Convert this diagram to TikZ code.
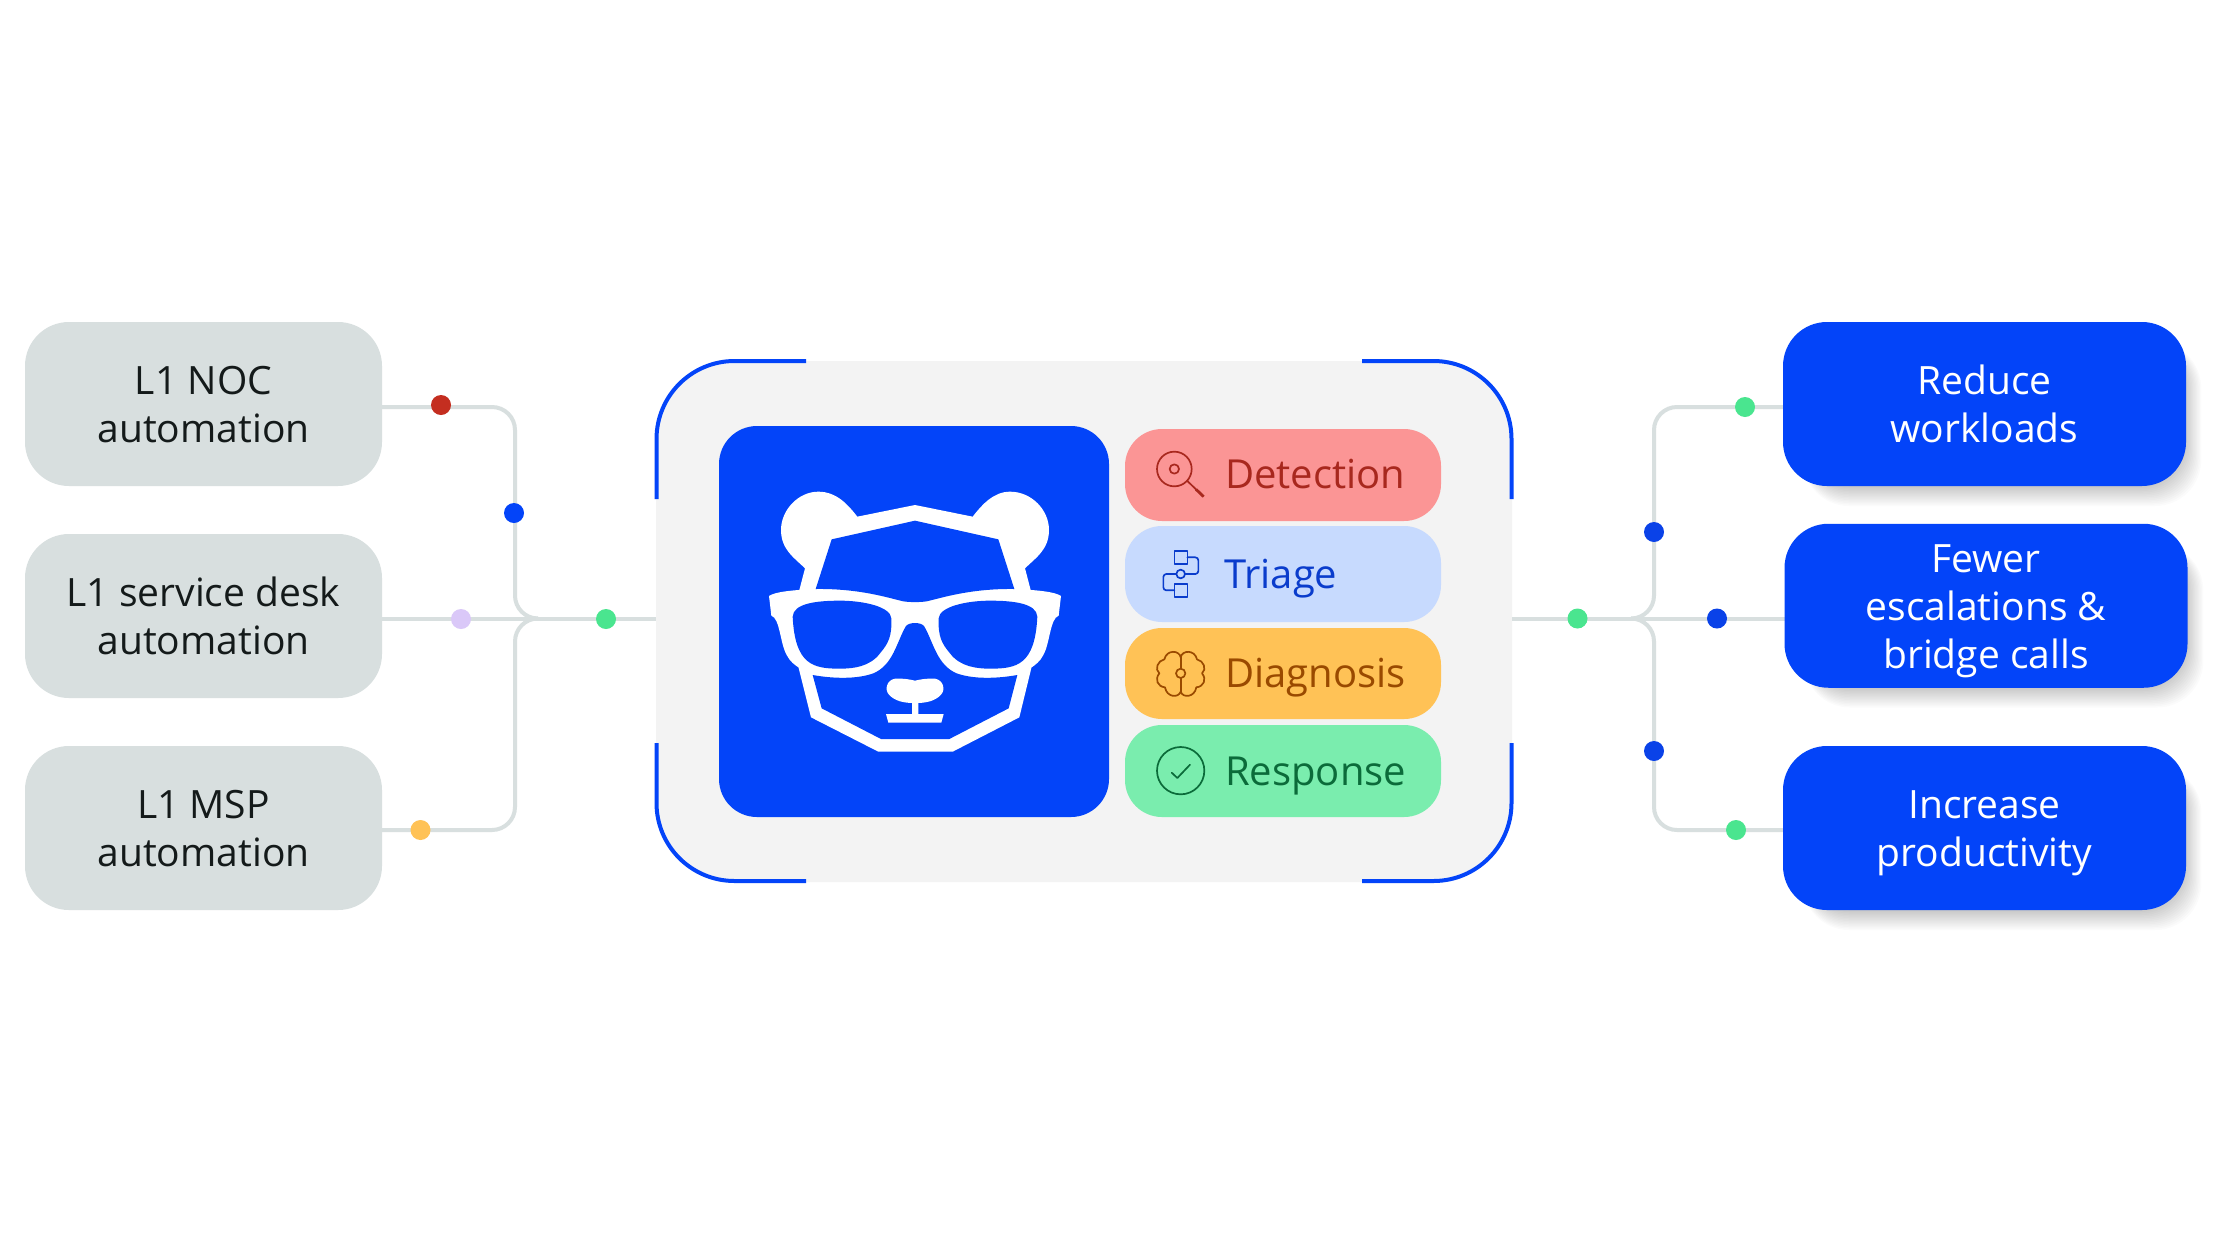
\documentclass[tikz,border=0pt]{standalone}
\usepackage{fontspec}
\setmainfont{Open Sans}
\definecolor{linegray}{HTML}{D8DFDF}
\definecolor{boxgray}{HTML}{D8DFDF}
\definecolor{brand}{HTML}{0344F9}
\definecolor{panelgray}{HTML}{F3F3F3}
\definecolor{dotred}{HTML}{C42E20}
\definecolor{dotlilac}{HTML}{DAC8F8}
\definecolor{dotgreen}{HTML}{4AE58F}
\definecolor{dotorange}{HTML}{FFC256}
\definecolor{dotblue}{HTML}{0A42E8}
\definecolor{pillred}{HTML}{FB9595}
\definecolor{pillblue}{HTML}{C7DAFE}
\definecolor{pillorange}{HTML}{FFC256}
\definecolor{pillgreen}{HTML}{7AEDAE}
\definecolor{inkred}{HTML}{A8281E}
\definecolor{inkblue}{HTML}{0A3CCC}
\definecolor{inkorange}{HTML}{9A4A00}
\definecolor{inkgreen}{HTML}{0B6B3A}
\definecolor{inkdark}{HTML}{141A1A}
\newcommand{\softshadow}[4]{%
  \foreach \k in {0,1,...,14}{%
    \fill[black,opacity=0.016,rounded corners=46pt]
      ({#1+20},{#2+20}) rectangle ({#3-3+\k*1.3},{#4-1+\k*1.5});
  }}
\newcommand{\topstrut}{\rule{0pt}{41pt}}
\newcommand{\botstrut}{\rule[-12pt]{0pt}{12pt}}
\tikzset{
  x=1pt,y=-1pt,
  conn/.style={draw=linegray,line width=4pt},
  boxtext/.style={inner sep=0pt,align=center,minimum height=164pt,font=\fontsize{39}{48}\selectfont},
  graybox/.style={rectangle,rounded corners=44pt,fill=boxgray,text=inkdark,minimum width=357pt,boxtext},
  bluebox/.style={rectangle,rounded corners=44pt,fill=brand,text=white,minimum width=403pt,boxtext},
  pill/.style={rectangle,rounded corners=37pt,inner sep=0pt,minimum width=316pt},
  pilltext/.style={anchor=base west,inner sep=0pt,font=\fontsize{40}{48}\selectfont},
  dot/.style={circle,inner sep=0pt,minimum size=20pt},
  bracket/.style={draw=brand,line width=4pt},
  icon/.style={line width=1.7pt,line join=round,line cap=round},
}
\begin{document}
\begin{tikzpicture}
\useasboundingbox (0,0) rectangle (2215,1232);
\fill[white] (0,0) rectangle (2215,1232);
% anchors of the connector trees
\coordinate (jl) at (537,618.5);
\coordinate (cl1) at (515,407);
\coordinate (cl3) at (515,830);
\coordinate (jr) at (1632,618.5);
\coordinate (cr1) at (1654,407);
\coordinate (cr3) at (1654,830);
% panel
\fill[panelgray,rounded corners=78pt] (656,361) rectangle (1512,882);
\node[inner sep=0pt,minimum width=856pt,minimum height=521pt] (panel) at (1084,621.5) {};
% connectors
\draw[conn] (panel.west |- jl) -- (300,618.5);
\draw[conn,rounded corners=23pt] (300,407) -- (cl1) -- (cl1 |- jl) -- (jl);
\draw[conn,rounded corners=23pt] (300,830) -- (cl3) -- (cl3 |- jl) -- (jl);
\draw[conn] (panel.east |- jr) -- (1850,618.5);
\draw[conn,rounded corners=23pt] (1850,407) -- (cr1) -- (cr1 |- jr) -- (jr);
\draw[conn,rounded corners=23pt] (1850,830) -- (cr3) -- (cr3 |- jr) -- (jr);
% panel corner brackets
\draw[bracket,rounded corners=78pt] (656.5,499) -- (656.5,361) -- (806,361);
\draw[bracket,rounded corners=78pt] (1362,361) -- (1511.5,361) -- (1511.5,499);
\draw[bracket,rounded corners=78pt] (656.5,743) -- (656.5,881) -- (806,881);
\draw[bracket,rounded corners=78pt] (1362,881) -- (1511.5,881) -- (1511.5,743);
% dots
\node[dot,fill=dotred] (d1) at (441,405) {};
\node[dot,fill=brand] (d2) at (514,513) {};
\node[dot,fill=dotlilac] (d3) at (461,619) {};
\node[dot,fill=dotgreen] (d4) at (606,619) {};
\node[dot,fill=dotorange] (d5) at (420.5,830) {};
\node[dot,fill=dotgreen] (d6) at (1577.5,618.5) {};
\node[dot,fill=dotgreen] (d7) at (1745,407) {};
\node[dot,fill=dotblue] (d8) at (1654,532) {};
\node[dot,fill=dotblue] (d9) at (1717,618.5) {};
\node[dot,fill=dotblue] (d10) at (1654,751) {};
\node[dot,fill=dotgreen] (d11) at (1736,830) {};
% left boxes
\node[graybox] (l1) at (203.5,404) {\topstrut L1 NOC\\automation\botstrut};
\node[graybox] (l2) at (203.5,616) {\topstrut L1 service desk\\automation\botstrut};
\node[graybox] (l3) at (203.5,828) {\topstrut L1 MSP\\automation\botstrut};
% right boxes
\softshadow{1783}{322}{2186}{486}
\softshadow{1784}{524}{2188}{687.5}
\softshadow{1783}{746}{2186}{910}
\node[bluebox] (r1) at (1984.5,404) {\topstrut Reduce\\workloads\botstrut};
\node[bluebox] (r2) at (1986,605.75) {\topstrut Fewer\\escalations \&\\bridge calls\botstrut};
\node[bluebox] (r3) at (1984.5,828) {\topstrut Increase\\productivity\botstrut};
% logo tile
\node[rectangle,rounded corners=38pt,fill=brand,inner sep=0pt,minimum width=390pt,minimum height=391pt] (tile) at (914,621.5) {};
\begin{scope}[shift={(700,410)},x=0.33333pt,y=-0.33333pt]
  % head with ears
  \fill[white] (472,320) -- (645,285) -- (818,320)
    .. controls (845,285) and (880,245) .. (930,245)
    .. controls (995,245) and (1047,300) .. (1047,360)
    .. controls (1047,420) and (1005,445) .. (975,475)
    -- (992,540) -- (995,770) -- (958,922) -- (758,1025) -- (535,1025) -- (333,922) -- (295,770) -- (298,540) -- (315,475)
    .. controls (285,445) and (243,420) .. (243,360)
    .. controls (243,300) and (295,245) .. (355,245)
    .. controls (410,245) and (445,285) .. (472,320) -- cycle;
  % glasses
  \fill[white] (207,558) .. controls (225,545) and (280,540) .. (347,537)
    .. controls (480,535) and (570,565) .. (610,574)
    .. controls (630,577) and (660,577) .. (680,574)
    .. controls (720,565) and (810,535) .. (943,537)
    .. controls (1010,540) and (1065,545) .. (1083,558)
    -- (1076,617) .. controls (1050,625) and (1050,700) .. (1030,735)
    .. controls (1020,755) and (1005,765) .. (995,772)
    -- (295,772) .. controls (285,765) and (270,755) .. (260,735)
    .. controls (240,700) and (240,625) .. (214,617) -- cycle;
  % forehead
  \fill[brand] (395,388) -- (645,332) -- (895,388) -- (943,537)
    .. controls (810,535) and (720,565) .. (680,574)
    .. controls (660,577) and (630,577) .. (610,574)
    .. controls (570,565) and (480,535) .. (347,537) -- cycle;
  % lower face
  \fill[brand] (338,795) .. controls (400,806) and (470,808) .. (520,790)
    .. controls (580,765) and (590,695) .. (618,648)
    .. controls (628,636) and (662,636) .. (672,648)
    .. controls (700,695) and (710,765) .. (770,790)
    .. controls (820,808) and (890,806) .. (952,795)
    -- (926,895) -- (748,987) -- (543,987) -- (365,895) -- cycle;
  % lenses
  \fill[brand] (278,620) .. controls (280,580) and (350,572) .. (420,572)
    .. controls (490,572) and (572,590) .. (574,625)
    .. controls (576,680) and (565,700) .. (540,730)
    .. controls (510,770) and (460,776) .. (420,776)
    .. controls (340,776) and (285,765) .. (278,620) -- cycle;
  \fill[brand] (1012,620) .. controls (1010,580) and (940,572) .. (870,572)
    .. controls (800,572) and (718,590) .. (716,625)
    .. controls (714,680) and (725,700) .. (750,730)
    .. controls (780,770) and (830,776) .. (870,776)
    .. controls (950,776) and (1005,765) .. (1012,620) -- cycle;
  % nose and mouth
  \fill[white] (645,812) .. controls (670,806) and (690,805) .. (705,806)
    .. controls (730,810) and (738,840) .. (722,855)
    .. controls (705,873) and (680,878) .. (655,879) -- (655,912) -- (731,912) -- (724,938) -- (565,938) -- (558,912) -- (636,912) -- (636,879)
    .. controls (610,878) and (585,873) .. (568,855)
    .. controls (552,840) and (560,810) .. (585,806)
    .. controls (600,805) and (620,806) .. (645,812) -- cycle;
\end{scope}
% pills
\node[pill,fill=pillred,minimum height=92pt] (p1) at (1283,475) {};
\node[pill,fill=pillblue,minimum height=96pt] (p2) at (1283,574) {};
\node[pill,fill=pillorange,minimum height=91pt] (p3) at (1283,673.5) {};
\node[pill,fill=pillgreen,minimum height=92pt] (p4) at (1283,771) {};
\node[pilltext,text=inkred] (t1) at (1225,488) {Detection};
\node[pilltext,text=inkblue] (t2) at (1224,588) {Triage};
\node[pilltext,text=inkorange] (t3) at (1225,687) {Diagnosis};
\node[pilltext,text=inkgreen] (t4) at (1225,785) {Response};
% icons
\begin{scope}[shift={(1110,410)},x=0.33333pt,y=-0.33333pt]
  % magnifier
  \draw[icon,inkred] (193,177) circle[radius=52];
  \draw[icon,inkred] (193,177) circle[radius=14];
  \draw[icon,inkred] (232,213) -- (258,238);
  \draw[inkred,line width=2.8pt] (258,238) -- (281,260);
  % flow
  \draw[icon,inkblue,line cap=butt] (193,423) rectangle (232,461);
  \draw[icon,inkblue,line cap=butt] (193,523) rectangle (232,562);
  \draw[icon,inkblue] (212,492) circle[radius=13];
  \draw[icon,inkblue,rounded corners=3pt] (232,442) -- (265,442) -- (265,492) -- (225,492);
  \draw[icon,inkblue,rounded corners=3pt] (199,492) -- (160,492) -- (160,541) -- (193,541);
  % brain
  \draw[icon,inkorange] (212,790) circle[radius=14];
  \draw[icon,inkorange] (212,742) -- (212,776) (212,804) -- (212,845);
  \draw[icon,inkorange] (212,742) .. controls (208,720) and (170,718) .. (163,748)
    .. controls (143,752) and (133,778) .. (148,790)
    .. controls (133,808) and (143,830) .. (165,832)
    .. controls (170,862) and (205,865) .. (212,845)
    .. controls (219,865) and (254,862) .. (259,832)
    .. controls (281,830) and (291,808) .. (276,790)
    .. controls (291,778) and (281,752) .. (261,748)
    .. controls (254,718) and (216,720) .. (212,742) -- cycle;
  % check
  \draw[icon,inkgreen] (212,1082) circle[radius=71];
  \draw[icon,inkgreen] (185,1088) -- (202,1104) -- (240,1064);
\end{scope}
\end{tikzpicture}
\end{document}
